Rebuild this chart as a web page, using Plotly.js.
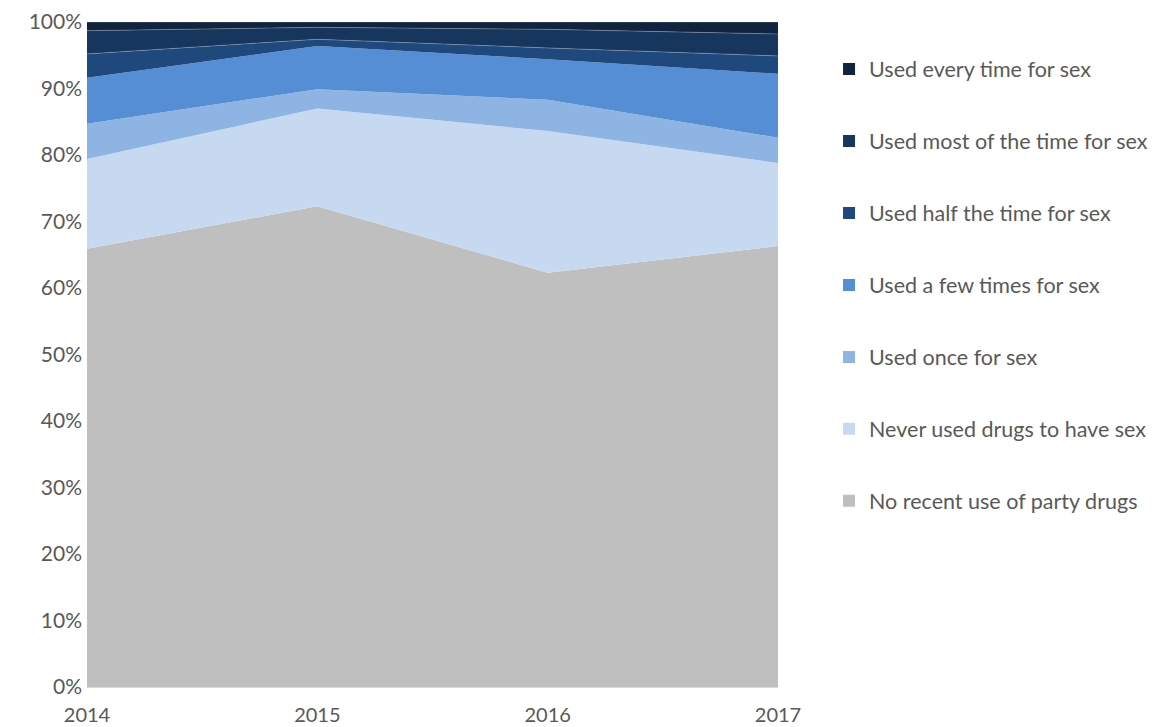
<!DOCTYPE html>
<html>
<head>
<meta charset="utf-8">
<script src="https://cdn.plot.ly/plotly-3.0.1.min.js"></script>
<style>html,body{margin:0;padding:0;background:#fff;}#chart{width:1156px;height:727px;}</style>
</head>
<body>
<div id="chart"></div>
<script>
const years = ["2014", "2015", "2016", "2017"];
const seriesNames = [
  "No recent use of party drugs",
  "Never used drugs to have sex",
  "Used once for sex",
  "Used a few times for sex",
  "Used half the time for sex",
  "Used most of the time for sex",
  "Used every time for sex"
];
const noRecent   = [65.9, 72.3, 62.3, 66.3];
const neverUsed  = [13.5, 14.7, 21.3, 12.5];
const usedOnce   = [5.3, 2.9, 4.7, 3.8];
const usedFew    = [6.9, 6.5, 6.1, 9.6];
const usedHalf   = [3.6, 1.0, 1.7, 2.7];
const usedMost   = [3.5, 1.8, 2.8, 3.3];
const usedEvery  = [1.3, 0.8, 1.1, 1.8];
const seriesValues = [noRecent, neverUsed, usedOnce, usedFew, usedHalf, usedMost, usedEvery];
const colors = ["#bfbfbf", "#c6d9f1", "#8eb4e3", "#558ed5", "#1f497d", "#17365d", "#10233f"];

const traces = [];
seriesValues.forEach((vals, i) => {
  traces.push({
    x: years, y: vals, type: "scatter", mode: "lines",
    stackgroup: "one", fillcolor: colors[i],
    line: {width: i >= 4 ? 0.6 : 0, color: "rgba(200,210,225,0.55)"},
    showlegend: false, hoverinfo: "skip"
  });
});
// legend entries (square markers)
for (let i = seriesNames.length - 1; i >= 0; i--) {
  traces.push({
    x: [null], y: [null], type: "scatter", mode: "markers",
    name: seriesNames[i], legendgroup: "g" + i,
    marker: {symbol: "square", size: 12, color: colors[i]},
    showlegend: true, hoverinfo: "skip"
  });
}

const fam = "Lato, 'Open Sans', sans-serif";
const layout = {
  width: 1156, height: 727,
  margin: {l: 87, r: 10, t: 22, b: 40, autoexpand: false},
  paper_bgcolor: "#fff", plot_bgcolor: "#fff",
  font: {family: fam, size: 20, color: "#595959"},
  showlegend: true,
  legend: {
    x: 0.7007, xanchor: "left", y: 0.96, yanchor: "top",
    traceorder: "grouped", tracegroupgap: 41,
    font: {family: fam, size: 21.5, color: "#595959"},
    bgcolor: "rgba(0,0,0,0)", itemwidth: 30
  },
  xaxis: {
    type: "category", range: [0, 3], domain: [0, 0.6525], showgrid: false, zeroline: false,
    showline: true, linecolor: "#d9d9d9", linewidth: 1,
    ticks: "", tickfont: {family: fam, size: 20, color: "#595959"}, ticklabelstandoff: 10
  },
  yaxis: {
    range: [0, 100], tickvals: [0,10,20,30,40,50,60,70,80,90,100],
    ticktext: ["0%","10%","20%","30%","40%","50%","60%","70%","80%","90%","100%"],
    showgrid: false, zeroline: false, showline: false, ticks: "",
    tickfont: {family: fam, size: 21, color: "#595959"}, ticklabelstandoff: 4
  }
};
Plotly.newPlot("chart", traces, layout, {displayModeBar: false, staticPlot: true});
</script>
</body>
</html>
